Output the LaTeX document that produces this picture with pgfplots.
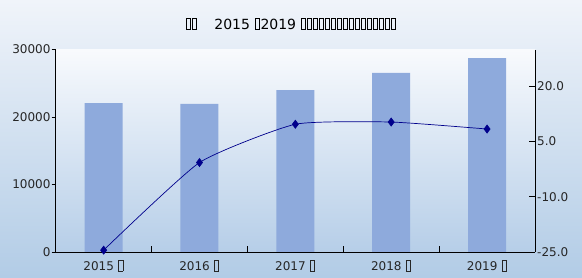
\documentclass[border=0pt]{standalone}
\usepackage{pgfplots}
\pgfplotsset{compat=1.18}
\usepackage{fontspec}
\setmainfont{DejaVu Sans}
\definecolor{barc}{RGB}{142,170,220}
\definecolor{linec}{RGB}{0,0,140}
\definecolor{bgtop}{RGB}{240,244,250}
\definecolor{bgbot}{RGB}{178,204,230}
\definecolor{patop}{RGB}{248,250,253}
\definecolor{pabot}{RGB}{182,206,232}
\newcommand\tofu[1][10.5pt]{\kern0.6pt{\setlength\fboxsep{0pt}\setlength\fboxrule{0.6pt}\fbox{\rule{0pt}{#1}\hspace{3.6pt}}}\kern0.6pt}
\begin{document}
\begin{tikzpicture}[x=1pt,y=1pt]
\shade[top color=bgtop,bottom color=bgbot] (0,0) rectangle (582,277);
\shade[top color=patop,bottom color=pabot] (55.7,25) rectangle (535,227.5);
\node[anchor=base, font=\fontsize{14}{16}\selectfont, inner sep=0pt] at (291,247.7)
  {\tofu\tofu\hspace{17pt}2015 \tofu2019 \tofu\tofu\tofu\tofu\tofu\tofu\tofu\tofu\tofu\tofu\tofu\tofu\tofu\tofu\tofu\tofu};
\begin{axis}[
  at={(55.7pt,25pt)}, anchor=south west, scale only axis,
  width=479.3pt, height=202.5pt,
  xmin=-0.5, xmax=4.5, ymin=0, ymax=30000,
  axis x line*=bottom, axis y line*=left,
  axis line style={-, black, line width=0.8pt},
  xtick={0,1,2,3,4},
  xticklabels={2015 \tofu, 2016 \tofu, 2017 \tofu, 2018 \tofu, 2019 \tofu},
  xtick style={draw=none},
  ytick={0,10000,20000,30000},
  tick align=outside, major tick length=4pt,
  tick style={black, line width=0.8pt},
  scaled y ticks=false,
  /pgf/number format/1000 sep={},
  /pgf/number format/assume math mode=true,
  ticklabel style={font=\fontsize{12}{14}\selectfont, text=black!85},
  yticklabel style={inner sep=1pt},
  ybar, bar width=38pt,
]
\addplot[fill=barc, draw=none] coordinates {(0,22070) (1,21930) (2,24000) (3,26520) (4,28740)};
\end{axis}
\begin{axis}[
  at={(55.7pt,25pt)}, anchor=south west, scale only axis,
  width=479.3pt, height=202.5pt,
  xmin=-0.5, xmax=4.5, ymin=-25, ymax=30,
  axis x line*=bottom, axis y line*=right,
  axis line style={-, black, line width=0.8pt},
  xtick={0.5,1.5,2.5,3.5}, xticklabels={},
  ytick={-25,-10,5,20},
  tick align=inside, major tick length=6pt,
  tick style={black, line width=0.8pt},
  /pgf/number format/assume math mode=true,
  /pgf/number format/fixed, /pgf/number format/fixed zerofill, /pgf/number format/precision=1,
  ticklabel style={font=\fontsize{12}{14}\selectfont, text=black!85},
  yticklabel style={inner sep=2pt},
  clip=false,
]
\addplot[linec, line width=0.7pt, smooth, tension=0.3, mark=diamond*, mark size=4pt] coordinates {(0,-24.5) (1,-0.7) (2,9.7) (3,10.3) (4,8.4)};
\end{axis}
\end{tikzpicture}
\end{document}
